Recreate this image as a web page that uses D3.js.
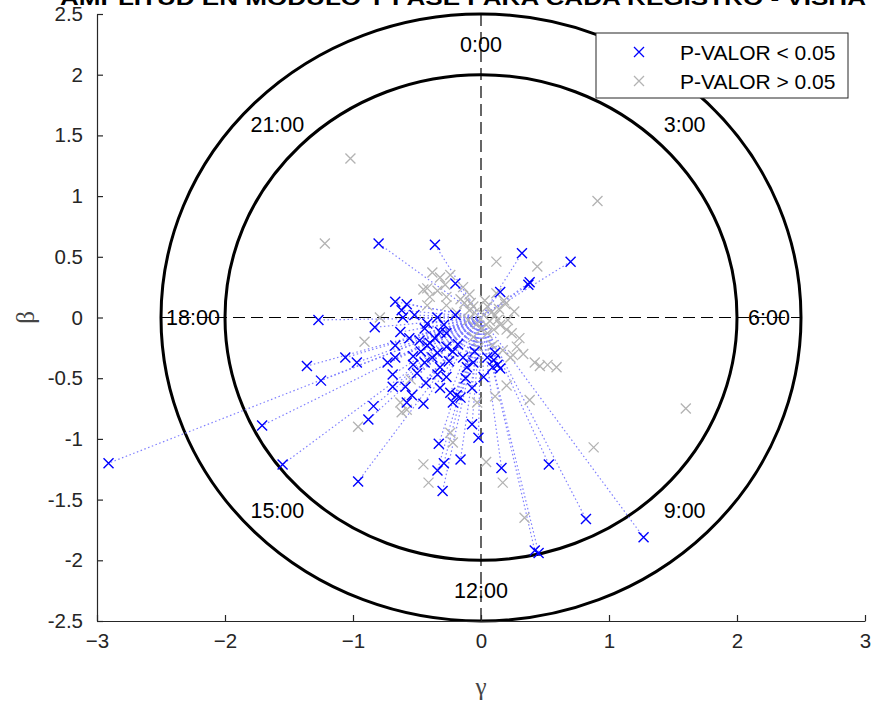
<!DOCTYPE html>
<html>
<head>
<meta charset="utf-8">
<script src="https://cdn.jsdelivr.net/npm/d3@7"></script>
<style>
    body { margin: 0; background: #fff; }
    svg { display: block; font-family: "Liberation Sans", Arial, sans-serif; }
</style>
</head>
<body>
<div id="chart"></div>
<script>
// puntos con p-valor < 0.05 (gamma, beta)
var bluePoints = [
    [-2.91, -1.20], [-1.71, -0.89], [-1.55, -1.21], [-1.27, -0.02], [-1.36, -0.40],
    [-1.25, -0.52], [-1.06, -0.33], [-0.97, -0.37], [-0.80, 0.61], [-0.36, 0.60],
    [-0.20, 0.28], [0.32, 0.53], [0.70, 0.46], [0.38, 0.29], [0.37, 0.27],
    [0.15, 0.21], [-0.96, -1.35], [-0.84, -0.73], [-0.88, -0.84], [-0.33, -1.04],
    [-0.34, -1.26], [-0.30, -1.43], [-0.29, -1.20], [-0.16, -1.17], [-0.07, -0.88],
    [-0.02, -0.99], [0.16, -1.24], [0.53, -1.21], [0.82, -1.66], [1.27, -1.81],
    [0.42, -1.92], [0.45, -1.94], [0.02, -0.49], [-0.83, -0.08], [-0.63, -0.12],
    [-0.73, -0.37], [-0.67, -0.33], [-0.67, -0.23], [-0.69, -0.47], [-0.69, -0.57],
    [-0.59, -0.57], [-0.54, -0.64], [-0.58, -0.70], [-0.45, -0.71], [-0.43, -0.54],
    [-0.53, -0.32], [-0.53, -0.39], [-0.44, -0.37], [-0.44, -0.09], [-0.48, -0.19],
    [-0.42, -0.23], [-0.34, 0.00], [-0.32, -0.12], [-0.27, -0.13], [-0.20, 0.02],
    [-0.34, -0.29], [-0.27, -0.24], [-0.22, -0.28], [-0.32, -0.41], [-0.34, -0.47],
    [-0.27, -0.49], [-0.32, -0.58], [-0.24, -0.62], [-0.19, -0.64], [-0.22, -0.70],
    [-0.16, -0.66], [-0.14, -0.33], [-0.11, -0.41], [-0.06, -0.37], [-0.07, -0.58],
    [0.05, -0.33], [0.11, -0.29], [0.13, -0.39], [0.15, -0.42], [0.09, -0.41],
    [-0.40, -0.21], [-0.38, -0.33], [-0.67, 0.13], [-0.58, 0.11], [-0.62, 0.06],
    [-0.61, 0.00], [-0.52, 0.02], [-0.42, -0.05], [-0.47, -0.28], [-0.36, -0.17],
    [-0.25, -0.36], [-0.12, -0.50], [-0.50, -0.46], [-0.18, -0.22], [-0.29, -0.06],
    [-0.56, -0.17], [0.10, -0.35], [-0.05, -0.28]
];

// puntos con p-valor > 0.05
var grayPoints = [
    [-1.02, 1.31], [-1.22, 0.61], [0.91, 0.96], [0.12, 0.46], [0.44, 0.42],
    [1.60, -0.75], [0.88, -1.07], [0.46, -0.40], [0.52, -0.39], [0.59, -0.41],
    [0.38, -0.68], [0.34, -1.65], [0.04, -1.19], [0.17, -1.36], [0.20, -0.56],
    [0.25, -0.31], [0.30, -0.17], [0.24, -0.13], [0.11, -0.65], [-0.38, 0.37],
    [-0.32, 0.33], [-0.24, 0.35], [-0.28, 0.27], [-0.45, 0.23], [-0.27, 0.17],
    [-0.14, 0.25], [-0.09, 0.19], [-0.79, 0.00], [-0.06, 0.09], [-0.91, -0.20],
    [-0.96, -0.90], [-0.58, -0.76], [-0.55, -0.51], [-0.24, -0.95], [-0.22, -1.03],
    [-0.42, 0.10], [-0.27, 0.10], [-0.63, -0.70], [-0.62, -0.78], [-0.45, -1.21],
    [-0.41, -1.36], [-0.03, -0.70], [-0.42, 0.24], [-0.40, 0.17], [-0.19, 0.04],
    [-0.09, 0.06], [0.05, 0.09], [0.13, -0.02], [0.20, -0.10], [0.05, -0.13],
    [0.09, -0.23], [0.17, -0.27], [0.23, -0.33], [-0.06, -0.16], [-0.02, -0.25],
    [0.42, -0.37], [0.02, 0.02], [0.08, 0.04], [-0.03, -0.05], [0.04, -0.06],
    [0.11, 0.02], [0.15, -0.06], [-0.10, -0.02], [0.19, 0.11], [0.26, 0.05],
    [-0.13, 0.12], [0.10, -0.10], [0.03, 0.14], [0.18, 0.14], [-0.05, 0.04],
    [0.07, -0.03], [0.14, 0.07], [-0.08, 0.12], [0.21, -0.02], [0.00, -0.10],
    [0.28, -0.24], [0.33, -0.30], [-0.16, 0.15], [0.12, 0.20], [-0.34, 0.22]
];

var xTicks = [-3, -2, -1, 0, 1, 2, 3];
var yTicks = [-2.5, -2, -1.5, -1, -0.5, 0, 0.5, 1, 1.5, 2, 2.5];
var radii = [2, 2.5];
var hourLabels = ["0:00", "3:00", "6:00", "9:00", "12:00", "15:00", "18:00", "21:00"];
var legendLabels = ["P-VALOR < 0.05", "P-VALOR > 0.05"];

var w = 876, h = 702;
var blue = "#0000ff", gray = "#b3b3b3", axisColor = "#262626";

var svg = d3.select("#chart")
    .append("svg")
    .attr("width", w)
    .attr("height", h);

var x = d3.scaleLinear().domain([-3, 3]).range([97, 865]);
var y = d3.scaleLinear().domain([-2.5, 2.5]).range([621, 14]);

// circulos de referencia
svg.selectAll(".ring")
    .data(radii)
    .enter()
    .append("ellipse")
    .attr("cx", x(0))
    .attr("cy", y(0))
    .attr("rx", function (d) { return x(d) - x(0); })
    .attr("ry", function (d) { return y(0) - y(d); })
    .attr("fill", "none")
    .attr("stroke", "#000")
    .attr("stroke-width", 3);

// ejes discontinuos
svg.append("line")
    .attr("x1", x(-2.5)).attr("x2", x(2.5))
    .attr("y1", y(0)).attr("y2", y(0))
    .attr("stroke", "#000").attr("stroke-width", 1.2)
    .attr("stroke-dasharray", "12,6");
svg.append("line")
    .attr("x1", x(0)).attr("x2", x(0))
    .attr("y1", y(2.5)).attr("y2", y(-2.5))
    .attr("stroke", "#000").attr("stroke-width", 1.2)
    .attr("stroke-dasharray", "12,6");

// etiquetas de hora
svg.selectAll(".hour")
    .data(hourLabels)
    .enter()
    .append("text")
    .attr("x", function (d, i) { return x(2.25 * Math.sin(i * Math.PI / 4)); })
    .attr("y", function (d, i) { return y(2.25 * Math.cos(i * Math.PI / 4)); })
    .attr("text-anchor", "middle")
    .attr("dy", "0.36em")
    .style("font-size", "21.5px")
    .text(function (d) { return d; });

// lineas punteadas desde el origen
svg.selectAll(".ray")
    .data(bluePoints)
    .enter()
    .append("line")
    .attr("x1", x(0)).attr("y1", y(0))
    .attr("x2", function (d) { return x(d[0]); })
    .attr("y2", function (d) { return y(d[1]); })
    .attr("stroke", "#7f7fff")
    .attr("stroke-width", 1.2)
    .attr("stroke-dasharray", "1.5,2.5");

function cross(px, py, s) {
    return "M" + (px - s) + "," + (py - s) + "L" + (px + s) + "," + (py + s) +
        "M" + (px - s) + "," + (py + s) + "L" + (px + s) + "," + (py - s);
}

svg.selectAll(".gpt")
    .data(grayPoints)
    .enter()
    .append("path")
    .attr("d", function (d) { return cross(x(d[0]), y(d[1]), 5); })
    .attr("stroke", gray)
    .attr("stroke-width", 1.3)
    .attr("fill", "none");

svg.selectAll(".bpt")
    .data(bluePoints)
    .enter()
    .append("path")
    .attr("d", function (d) { return cross(x(d[0]), y(d[1]), 5); })
    .attr("stroke", blue)
    .attr("stroke-width", 1.4)
    .attr("fill", "none");

// Axis Code
var xAxis = d3.axisBottom(x).tickValues(xTicks).tickSizeInner(-6).tickSizeOuter(0).tickPadding(12)
    .tickFormat(d3.format("d"));
var yAxis = d3.axisLeft(y).tickValues(yTicks).tickSizeInner(-6).tickSizeOuter(0).tickPadding(14)
    .tickFormat(function (d) { return String(d); });

var gx = svg.append("g")
    .attr("transform", "translate(0," + y(-2.5) + ")")
    .call(xAxis);
var gy = svg.append("g")
    .attr("transform", "translate(" + x(-3) + ",0)")
    .call(yAxis);

[gx, gy].forEach(function (g) {
    g.select(".domain").attr("stroke", axisColor).attr("stroke-width", 1.2);
    g.selectAll(".tick line").attr("stroke", axisColor).attr("stroke-width", 1.2);
    g.selectAll(".tick text")
        .attr("fill", axisColor)
        .style("font-size", "20.5px")
        .style("font-family", "Liberation Sans, Arial, sans-serif");
});

// etiquetas de ejes
svg.append("text")
    .attr("x", x(0)).attr("y", 695)
    .attr("text-anchor", "middle")
    .attr("fill", "#444")
    .style("font-family", "Liberation Serif, serif")
    .style("font-size", "25px")
    .text("γ");
svg.append("text")
    .attr("transform", "translate(34," + y(0) + ") rotate(-90)")
    .attr("text-anchor", "middle")
    .attr("fill", "#444")
    .style("font-family", "Liberation Serif, serif")
    .style("font-size", "25px")
    .text("β");

// titulo (cortado arriba)
svg.append("text")
    .attr("x", 60).attr("y", 5)
    .attr("textLength", 806)
    .attr("lengthAdjust", "spacingAndGlyphs")
    .style("font-weight", "bold")
    .style("font-size", "21px")
    .text("AMPLITUD EN MÓDULO Y FASE PARA CADA REGISTRO - VISHA");

// leyenda
var legend = svg.append("g").attr("transform", "translate(596,33)");
legend.append("rect")
    .attr("width", 252).attr("height", 65)
    .attr("fill", "#fff")
    .attr("stroke", "#262626")
    .attr("stroke-width", 1);
legend.selectAll(".lg")
    .data(legendLabels)
    .enter()
    .append("path")
    .attr("d", function (d, i) { return cross(43, 19 + i * 29, 5); })
    .attr("stroke", function (d, i) { return i === 0 ? blue : gray; })
    .attr("stroke-width", 1.3)
    .attr("fill", "none");
legend.selectAll(".lt")
    .data(legendLabels)
    .enter()
    .append("text")
    .attr("x", 84)
    .attr("y", function (d, i) { return 19 + i * 29; })
    .attr("dy", "0.36em")
    .style("font-size", "21px")
    .text(function (d) { return d; });
</script>
</body>
</html>
